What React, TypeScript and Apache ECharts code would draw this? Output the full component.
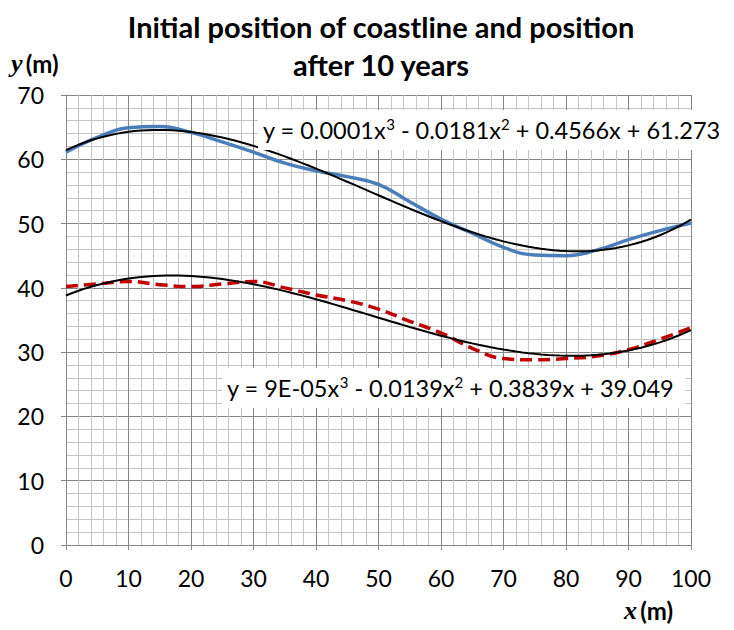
import React, { useEffect, useRef } from "react";
import * as echarts from "echarts";

const xValues = [0, 5, 10, 15, 20, 25, 30, 35, 40, 45, 50, 55, 60, 65, 70, 75, 80, 85, 90, 95, 100];
const initialY = [61.1, 63.4, 64.9, 65.1, 64.2, 62.7, 61.1, 59.4, 58.2, 57.3, 56.1, 53.4, 50.7, 48.5, 46.3, 45.1, 45.0, 45.9, 47.5, 48.9, 50.1];
const after10Y = [40.2, 40.6, 41.0, 40.5, 40.2, 40.6, 41.0, 40.0, 38.9, 38.0, 36.7, 34.8, 33.0, 30.6, 29.0, 28.8, 29.0, 29.4, 30.4, 32.0, 33.8];
const titleLines = ["Initial position of coastline and position", "after 10 years"];
const trendLabelInitial = ["y = 0.0001x", "3", " - 0.0181x", "2", " + 0.4566x + 61.273"];
const trendLabelAfter = ["y = 9E-05x", "3", " - 0.0139x", "2", " + 0.3839x + 39.049"];

const FONT = "Lato, 'Open Sans', sans-serif";

function cubicFit(xs: number[], ys: number[]): number[] {
  const n = 4;
  const A: number[][] = [];
  const b: number[] = [];
  for (let i = 0; i < n; i++) {
    A.push(new Array(n).fill(0));
    b.push(0);
  }
  xs.forEach((x, k) => {
    const u = x / 100;
    for (let i = 0; i < n; i++) {
      for (let j = 0; j < n; j++) A[i][j] += Math.pow(u, i + j);
      b[i] += ys[k] * Math.pow(u, i);
    }
  });
  for (let c = 0; c < n; c++) {
    let p = c;
    for (let r = c + 1; r < n; r++) if (Math.abs(A[r][c]) > Math.abs(A[p][c])) p = r;
    [A[c], A[p]] = [A[p], A[c]];
    [b[c], b[p]] = [b[p], b[c]];
    for (let r = c + 1; r < n; r++) {
      const f = A[r][c] / A[c][c];
      for (let j = c; j < n; j++) A[r][j] -= f * A[c][j];
      b[r] -= f * b[c];
    }
  }
  const coef = new Array(n).fill(0);
  for (let i = n - 1; i >= 0; i--) {
    let s = b[i];
    for (let j = i + 1; j < n; j++) s -= A[i][j] * coef[j];
    coef[i] = s / A[i][i];
  }
  return coef;
}

function trendPoints(xs: number[], ys: number[]): number[][] {
  const c = cubicFit(xs, ys);
  const pts: number[][] = [];
  const x0 = xs[0];
  const x1 = xs[xs.length - 1];
  for (let x = x0; x <= x1; x += 1) {
    const u = x / 100;
    pts.push([x, c[0] + c[1] * u + c[2] * u * u + c[3] * u * u * u]);
  }
  return pts;
}

function eqRich(parts: string[]): string {
  return parts.map((p, i) => (i % 2 === 1 ? `{s|${p}}` : `{n|${p}}`)).join("");
}

const eqRichStyles = {
  n: { fontFamily: FONT, fontSize: 23.5, fill: "#000", lineHeight: 28 },
  s: { fontFamily: FONT, fontSize: 15, fill: "#000", verticalAlign: "top", lineHeight: 18 },
};

export default function App() {
  const ref = useRef<HTMLDivElement>(null);
  useEffect(() => {
    if (!ref.current) return;
    const chart = echarts.init(ref.current, undefined, { renderer: "svg" });
    const axisGray = "#868686";
    const minorGray = "#c4c4c4";
    const labelRich = {
      a: { fontFamily: "'Liberation Serif', serif", fontStyle: "italic", fontWeight: "bold", fontSize: 26, fill: "#000" },
      b: { fontFamily: FONT, fontWeight: "bold", fontSize: 24, fill: "#000" },
    };
    chart.setOption({
      animation: false,
      backgroundColor: "#ffffff",
      title: {
        text: titleLines.join("\n"),
        left: 376,
        top: 2,
        textAlign: "center",
        textStyle: { fontFamily: FONT, fontSize: 29, fontWeight: "bold", color: "#000", lineHeight: 38 },
      },
      grid: { left: 66, right: 43, top: 95, bottom: 85 },
      xAxis: {
        type: "value",
        min: 0,
        max: 100,
        interval: 10,
        axisLine: { show: true, lineStyle: { color: axisGray } },
        axisTick: { show: true, length: 5, lineStyle: { color: axisGray } },
        axisLabel: { fontFamily: FONT, fontSize: 23, color: "#000", margin: 21 },
        splitLine: { show: true, lineStyle: { color: axisGray, width: 1 } },
        minorTick: { show: false, splitNumber: 5 },
        minorSplitLine: { show: true, lineStyle: { color: minorGray, width: 1 } },
      },
      yAxis: {
        type: "value",
        min: 0,
        max: 70,
        interval: 10,
        axisLine: { show: true, lineStyle: { color: axisGray } },
        axisTick: { show: true, length: 5, lineStyle: { color: axisGray } },
        axisLabel: { fontFamily: FONT, fontSize: 23, color: "#000", margin: 22 },
        splitLine: { show: true, lineStyle: { color: axisGray, width: 1 } },
        minorTick: { show: false, splitNumber: 5 },
        minorSplitLine: { show: true, lineStyle: { color: minorGray, width: 1 } },
      },
      series: [
        {
          type: "line",
          name: "Initial",
          data: xValues.map((x, i) => [x, initialY[i]]),
          smooth: 0.45,
          showSymbol: false,
          lineStyle: { color: "#4A7EBB", width: 3.5 },
          z: 2,
        },
        {
          type: "line",
          name: "After 10 years",
          data: xValues.map((x, i) => [x, after10Y[i]]),
          smooth: 0.45,
          showSymbol: false,
          lineStyle: { color: "#C00000", width: 3.5, type: [12, 6] },
          z: 2,
        },
        {
          type: "line",
          name: "Trend initial",
          data: trendPoints(xValues, initialY),
          smooth: false,
          showSymbol: false,
          lineStyle: { color: "#000", width: 2 },
          z: 3,
        },
        {
          type: "line",
          name: "Trend after",
          data: trendPoints(xValues, after10Y),
          smooth: false,
          showSymbol: false,
          lineStyle: { color: "#000", width: 2 },
          z: 3,
        },
      ],
      graphic: [
        {
          type: "text",
          left: 11,
          top: 50,
          z: 10,
          style: { text: "{a|y} {b|(m)}", rich: labelRich },
        },
        {
          type: "text",
          left: 624,
          top: 597,
          z: 10,
          style: { text: "{a|x} {b|(m)}", rich: labelRich },
        },
        {
          type: "rect",
          z: 10,
          shape: { x: 258, y: 110, width: 466, height: 40 },
          style: { fill: "#fff" },
        },
        {
          type: "text",
          z: 11,
          x: 263,
          y: 130,
          style: { text: eqRich(trendLabelInitial), rich: eqRichStyles, verticalAlign: "middle" },
        },
        {
          type: "rect",
          z: 10,
          shape: { x: 222, y: 368, width: 463, height: 40 },
          style: { fill: "#fff" },
        },
        {
          type: "text",
          z: 11,
          x: 227,
          y: 388,
          style: { text: eqRich(trendLabelAfter), rich: eqRichStyles, verticalAlign: "middle" },
        },
      ],
    });
    return () => chart.dispose();
  }, []);
  return <div ref={ref} style={{ position: "fixed", left: 0, top: 0, width: 734, height: 630 }} />;
}
